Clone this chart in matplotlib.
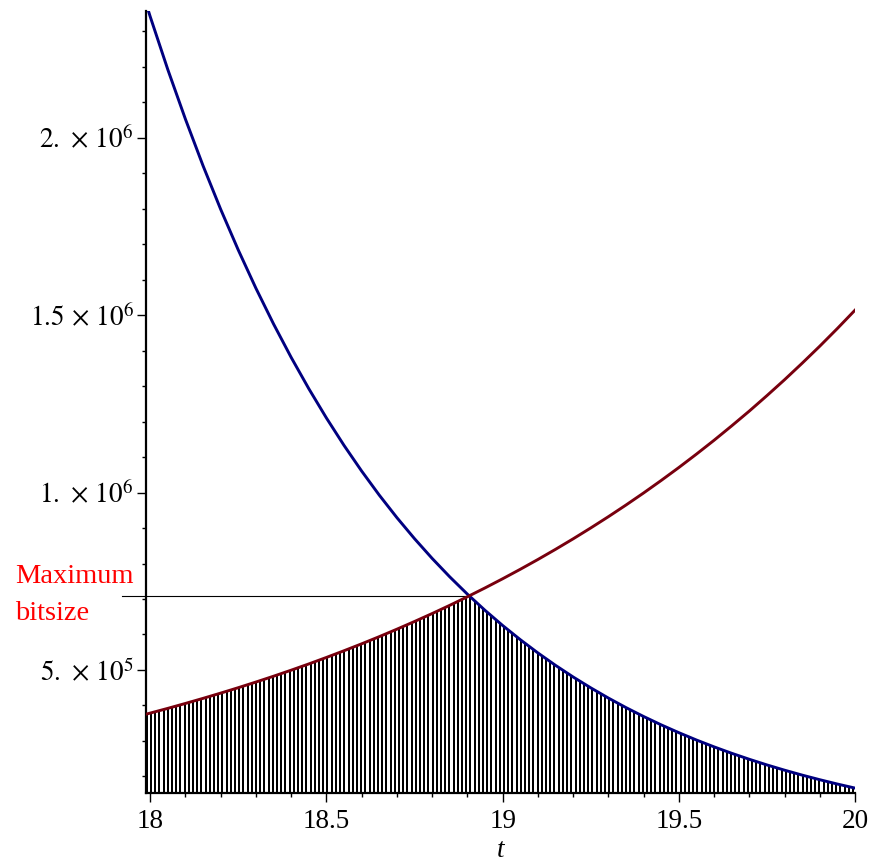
import numpy as np
import matplotlib
matplotlib.use("Agg")
import matplotlib.pyplot as plt
from matplotlib.ticker import MultipleLocator, FixedLocator, FixedFormatter

plt.rcParams['font.family'] = ['Liberation Serif', 'DejaVu Serif']
plt.rcParams['mathtext.fontset'] = 'stix'

# values
t_vals = [17.987, 18.0, 18.05, 18.1, 18.15, 18.2, 18.25, 18.3, 18.35, 18.4,
          18.45, 18.5, 18.55, 18.6, 18.65, 18.7, 18.75, 18.8, 18.85, 18.9,
          18.95, 19.0, 19.05, 19.1, 19.15, 19.2, 19.25, 19.3, 19.35, 19.4,
          19.45, 19.5, 19.55, 19.6, 19.65, 19.7, 19.75, 19.8, 19.85, 19.9,
          19.95, 20.0]
red_vals = [3.751e5, 3.785e5, 3.918e5, 4.057e5, 4.200e5, 4.348e5, 4.501e5,
            4.660e5, 4.824e5, 4.994e5, 5.170e5, 5.353e5, 5.542e5, 5.737e5,
            5.939e5, 6.149e5, 6.366e5, 6.590e5, 6.822e5, 7.063e5, 7.312e5,
            7.570e5, 7.837e5, 8.113e5, 8.399e5, 8.695e5, 9.002e5, 9.319e5,
            9.648e5, 9.988e5, 1.0341e6, 1.0705e6, 1.1083e6, 1.1473e6,
            1.1879e6, 1.2296e6, 1.2731e6, 1.3179e6, 1.3645e6, 1.4125e6,
            1.4624e6, 1.514e6]
blue_vals = [2.382e6, 2.341e6, 2.1917e6, 2.052e6, 1.9207e6, 1.798e6,
             1.6832e6, 1.5756e6, 1.4750e6, 1.3808e6, 1.2927e6, 1.2101e6,
             1.1328e6, 1.0605e6, 9.927e5, 9.293e5, 8.700e5, 8.144e5,
             7.624e5, 7.137e5, 6.681e5, 6.254e5, 5.855e5, 5.481e5, 5.131e5,
             4.803e5, 4.497e5, 4.209e5, 3.940e5, 3.689e5, 3.453e5, 3.233e5,
             3.026e5, 2.833e5, 2.652e5, 2.483e5, 2.324e5, 2.176e5, 2.037e5,
             1.907e5, 1.785e5, 1.671e5]
cross_t = 18.905
cross_y = 7.085e5
max_line_start = 17.921

ytick_vals = [5e5, 1e6, 1.5e6, 2e6]
ytick_labels = [r'$5.\,\times\,10^{5}$', r'$1.\,\times\,10^{6}$',
                r'$1.5\,\times\,10^{6}$', r'$2.\,\times\,10^{6}$']
xtick_vals = [18, 18.5, 19, 19.5, 20]
xtick_labels = ['18', '18.5', '19', '19.5', '20']

x_lim = (17.987, 20.0)
y_lim = (1.525e5, 2.3585e6)

RED = '#78000E'
BLUE = '#000080'

t = np.array(t_vals)
red = np.array(red_vals)
blue = np.array(blue_vals)
low = np.minimum(red, blue)
env_t = np.concatenate([t[t < cross_t], [cross_t], t[t > cross_t]])
env_y = np.concatenate([low[t < cross_t], [cross_y], low[t > cross_t]])

fig = plt.figure(figsize=(8.78, 8.63), dpi=100)
ax = fig.add_axes([0.1659, 0.0808, 0.8079, 0.907])

# shaded region below both curves: white polygon, vertical stripes clipped to it
region = ax.fill_between(env_t, y_lim[0], env_y, facecolor='white',
                         linewidth=0, zorder=1)
stripe_x = np.arange(x_lim[0] + 0.003, x_lim[1], 0.01193)
stripes = ax.vlines(stripe_x, y_lim[0], y_lim[1], colors='black',
                    linewidth=1.44, snap=True, zorder=1.5)
stripes.set_clip_path(region.get_paths()[0], region.get_transform())

ax.plot([max_line_start, cross_t], [cross_y, cross_y], color='black',
        lw=0.8, clip_on=False, zorder=2)
ax.plot(t, blue, color=BLUE, lw=2.1, zorder=3)
ax.plot(t, red, color=RED, lw=2.1, zorder=4)

ax.set_xlim(*x_lim)
ax.set_ylim(*y_lim)

for side in ['top', 'right']:
    ax.spines[side].set_visible(False)
for side in ['left', 'bottom']:
    ax.spines[side].set_linewidth(1.6)

ax.xaxis.set_major_locator(FixedLocator(xtick_vals))
ax.xaxis.set_major_formatter(FixedFormatter(xtick_labels))
ax.xaxis.set_minor_locator(MultipleLocator(0.1))
ax.yaxis.set_major_locator(FixedLocator(ytick_vals))
ax.yaxis.set_major_formatter(FixedFormatter(ytick_labels))
ax.yaxis.set_minor_locator(MultipleLocator(1e5))

ax.tick_params(which='major', length=6.5, width=1.0, labelsize=19.5, pad=2)
ax.tick_params(which='minor', length=3.2, width=1.0)
ax.tick_params(axis='x', which='major', pad=5)

ax.set_xlabel('t', fontsize=19.5, style='italic', labelpad=3)

fig.text(15 / 878, 1 - 595 / 863, 'Maximum\nbitsize', color='red',
         fontsize=20.5, ha='left', va='center', linespacing=1.6)

fig.savefig('out.png', dpi=100)
